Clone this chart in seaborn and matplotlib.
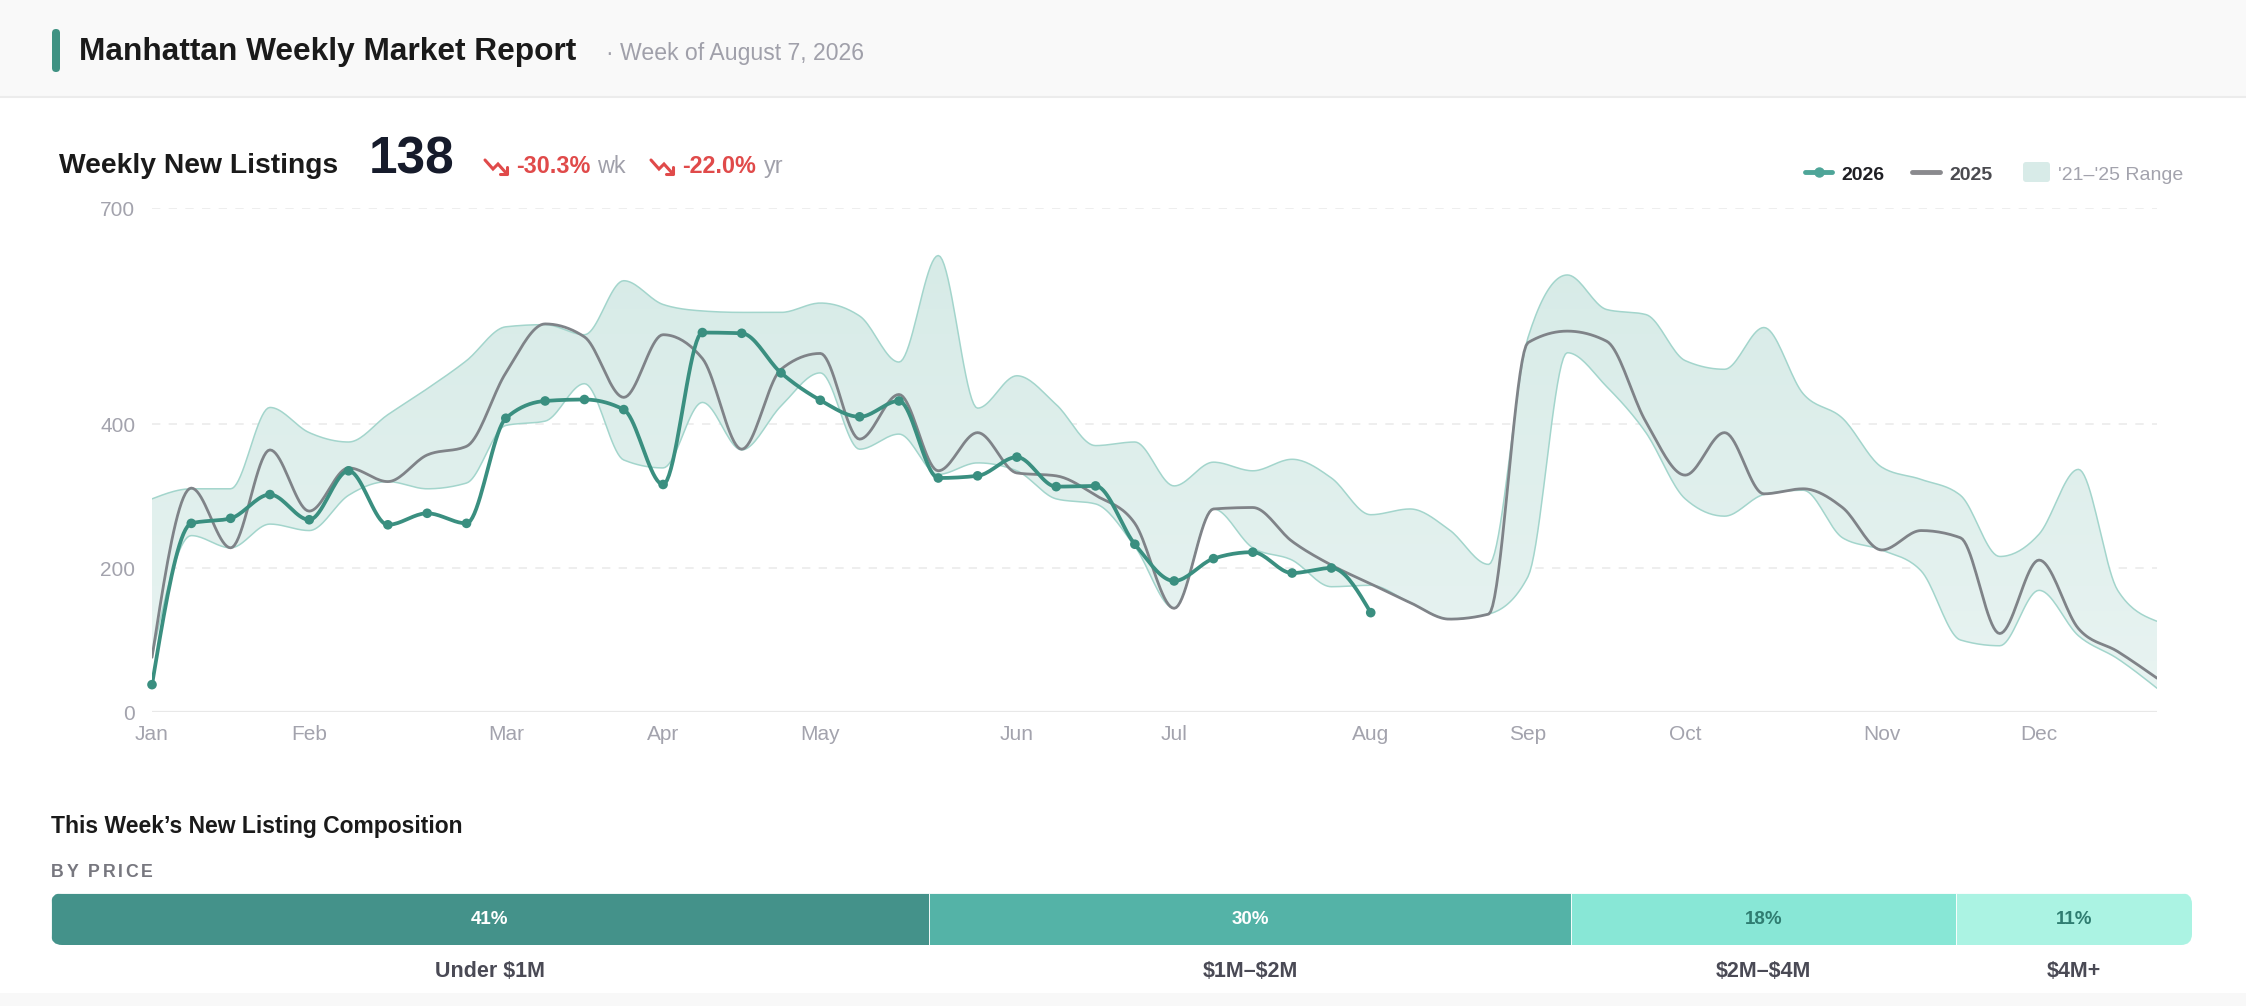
import numpy as np
import pandas as pd
import seaborn as sns
import matplotlib.pyplot as plt
from matplotlib.patches import FancyBboxPatch, Rectangle
from matplotlib.colors import LinearSegmentedColormap

# weekly values (week 0 = first week of Jan)
month_labels = ["Jan", "Feb", "Mar", "Apr", "May", "Jun", "Jul", "Aug", "Sep", "Oct", "Nov", "Dec"]
month_weeks = [0, 4, 9, 13, 17, 22, 26, 31, 35, 39, 44, 48]

listings_2026 = [38, 262, 269, 302, 267, 335, 260, 276, 262, 408, 432, 434, 420, 316, 527, 526,
                 471, 433, 410, 432, 325, 328, 354, 313, 314, 233, 182, 213, 222, 193, 200, 138]

listings_2025 = [76, 311, 228, 364, 279, 339, 320, 357, 369, 471, 539, 521, 437, 524, 491, 365,
                 476, 498, 379, 441, 335, 388, 332, 328, 301, 262, 144, 282, 284, 237, 204, 178,
                 152, 129, 136, 513, 529, 515, 403, 329, 388, 303, 310, 284, 225, 252, 242, 109,
                 211, 116, 84, 47]

range_high = [296, 310, 310, 423, 388, 375, 413, 449, 488, 535, 538, 524, 599, 566, 557, 555,
              555, 568, 550, 486, 634, 422, 467, 427, 370, 375, 314, 347, 335, 351, 325, 274,
              282, 253, 205, 520, 607, 559, 552, 488, 476, 534, 442, 408, 340, 323, 301, 216,
              247, 337, 169, 126]

range_low = [76, 245, 228, 261, 252, 301, 320, 310, 318, 398, 404, 456, 350, 339, 430, 364,
             425, 471, 365, 386, 330, 346, 335, 296, 289, 230, 144, 282, 228, 211, 174, 176,
             152, 129, 136, 188, 499, 452, 388, 296, 272, 302, 308, 242, 225, 196, 100, 92,
             169, 106, 74, 33]

price_labels = ["Under \\$1M", "\\$1M\u2013\\$2M", "\\$2M\u2013\\$4M", "\\$4M+"]
price_shares = [41, 30, 18, 11]
price_colors = ["#44928a", "#54b3a7", "#88e7d6", "#abf3e3"]
price_text_colors = ["white", "white", "#2f7d71", "#2f7d71"]

TEAL = "#3a8f80"
GREY = "#7f8388"


def monotone_curve(values, steps=20):
    # monotone cubic (same idea as d3.curveMonotoneX), only for drawing
    y = np.asarray(values, float)
    n = len(y)
    s = np.diff(y)
    t = np.zeros(n)
    for i in range(1, n - 1):
        s0, s1 = s[i - 1], s[i]
        p = (s0 + s1) / 2
        t[i] = (np.sign(s0) + np.sign(s1)) * min(abs(s0), abs(s1), 0.5 * abs(p))
    t[0] = (3 * s[0] - t[1]) / 2
    t[-1] = (3 * s[-1] - t[-2]) / 2
    u = np.linspace(0, 1, steps, endpoint=False)
    h00 = 2 * u**3 - 3 * u**2 + 1
    h10 = u**3 - 2 * u**2 + u
    h01 = -2 * u**3 + 3 * u**2
    h11 = u**3 - u**2
    xs, ys = [], []
    for i in range(n - 1):
        xs.append(i + u)
        ys.append(h00 * y[i] + h10 * t[i] + h01 * y[i + 1] + h11 * t[i + 1])
    xs.append([n - 1])
    ys.append([y[-1]])
    return np.concatenate(xs), np.concatenate(ys)


sns.set_theme(style="white")
plt.rcParams['font.family'] = ['Liberation Sans', 'DejaVu Sans']

W, H = 2246, 1006
fig = plt.figure(figsize=(W / 100, H / 100), dpi=100)
fig.patch.set_facecolor("white")

# background / layout layer in pixel coordinates
bg = fig.add_axes([0, 0, 1, 1])
bg.set_xlim(0, W)
bg.set_ylim(H, 0)
bg.axis("off")
bg.set_zorder(-1)
bg.add_patch(Rectangle((0, 0), W, 97, fc="#f9f9f9", ec="none"))
bg.plot([0, W], [97, 97], color="#ececec", lw=1.5)
bg.add_patch(Rectangle((0, 993), W, 13, fc="#f8f8f8", ec="none"))
bg.add_patch(FancyBboxPatch((52, 29), 8, 43, boxstyle="round,pad=0,rounding_size=4",
                            fc="#3f9283", ec="none"))

bg.text(79, 60, "Manhattan Weekly Market Report", fontsize=22.8, fontweight="bold",
        color="#1a1a1a", va="baseline")
bg.text(606, 60, "\u00b7 Week of August 7, 2026", fontsize=16.6, color="#a0a0aa", va="baseline")

bg.text(59, 173, "Weekly New Listings", fontsize=20.3, fontweight="bold", color="#1a1a1a",
        va="baseline")
bg.text(369, 173, "138", fontsize=37, fontweight="bold", color="#161b2b", va="baseline")

RED = "#e04a4a"
for x0, pct, unit, ux in [(485, "-30.3%", "wk", 597), (651, "-22.0%", "yr", 764)]:
    bg.plot([x0, x0 + 8, x0 + 13, x0 + 22], [160, 169, 164, 174], color=RED, lw=2.2,
            solid_joinstyle="miter")
    bg.plot([x0 + 15, x0 + 22, x0 + 22], [174, 174, 167], color=RED, lw=2.2)
    bg.text(x0 + 31, 173, pct, fontsize=16.8, fontweight="bold", color=RED, va="baseline")
    bg.text(ux, 173, unit, fontsize=16.8, color="#a0a0aa", va="baseline")

# legend
bg.plot([1805, 1832], [172, 172], color="#4ea598", lw=3.5, solid_capstyle="round")
bg.plot([1818.5], [172], "o", color="#4ea598", ms=6.5)
bg.text(1841, 180, "2026", fontsize=14, fontweight="bold", color="#1f1f24", va="baseline")
bg.plot([1912, 1940], [172, 172], color="#8a8a8e", lw=3.5, solid_capstyle="round")
bg.text(1949, 180, "2025", fontsize=14, fontweight="bold", color="#4b4b50", va="baseline")
bg.add_patch(FancyBboxPatch((2023, 162), 27, 20, boxstyle="round,pad=0,rounding_size=3",
                            fc="#d8ebe8", ec="none"))
bg.text(2058, 180, "'21\u2013'25 Range", fontsize=14, color="#a3a3ad", va="baseline")

# main chart
ax = fig.add_axes([152 / W, 1 - 712 / H, (2157 - 152) / W, (712 - 208) / H])
ax.set_facecolor("none")

xb, hi_d = monotone_curve(range_high)
_, lo_d = monotone_curve(range_low)
band = ax.fill_between(xb, lo_d, hi_d, facecolor="none", edgecolor="none")
grad = np.linspace(0, 1, 256).reshape(-1, 1)
cmap = LinearSegmentedColormap.from_list("band", ["#e9f4f2", "#d5eae6"])
im = ax.imshow(grad, extent=(0, 51, 0, 700), origin="lower", aspect="auto", cmap=cmap, zorder=1)
im.set_clip_path(band.get_paths()[0], transform=ax.transData)
ax.plot(xb, hi_d, color="#a3d5cc", lw=1.1, zorder=2)
ax.plot(xb, lo_d, color="#a3d5cc", lw=1.1, zorder=2)

for v in [200, 400, 700]:
    ax.axhline(v, color="#ebebeb", lw=1.2, ls=(0, (5, 5)), zorder=0)
ax.axhline(0, color="#e8e8e8", lw=1.6, zorder=0)

x25, y25 = monotone_curve(listings_2025)
df25 = pd.DataFrame({"week": x25, "listings": y25})
sns.lineplot(data=df25, x="week", y="listings", ax=ax, color=GREY, linewidth=2.0, zorder=3)

x26, y26 = monotone_curve(listings_2026)
df26 = pd.DataFrame({"week": x26, "listings": y26})
sns.lineplot(data=df26, x="week", y="listings", ax=ax, color=TEAL, linewidth=2.7, zorder=4)
pts = pd.DataFrame({"week": np.arange(len(listings_2026)), "listings": listings_2026})
sns.scatterplot(data=pts, x="week", y="listings", ax=ax, color=TEAL, s=48, edgecolor="none",
                zorder=5, clip_on=False)

ax.set_xlim(0, 51)
ax.set_ylim(0, 700)
ax.set_xticks(month_weeks)
ax.set_xticklabels(month_labels)
ax.set_yticks([0, 200, 400, 700])
ax.set_yticklabels(["0", "200", "400", "700"])
ax.set_xlabel("")
ax.set_ylabel("")
ax.tick_params(axis="both", length=0, labelsize=15, labelcolor="#a3a3ad")
ax.tick_params(axis="x", pad=9)
ax.tick_params(axis="y", pad=12)
for sp in ax.spines.values():
    sp.set_visible(False)

# composition bar
bg.text(51, 833, "This Week\u2019s New Listing Composition", fontsize=16.5, fontweight="bold",
        color="#1a1a1a", va="baseline")

# "BY PRICE" with letter spacing
renderer = fig.canvas.get_renderer()
cx = 51
for ch in "BY PRICE":
    t = bg.text(cx, 877, ch, fontsize=12.8, fontweight="bold", color="#77777f", va="baseline")
    w = t.get_window_extent(renderer).width if ch != " " else 5
    cx += w + 2.6

bx = fig.add_axes([51 / W, 1 - 945 / H, (2192 - 51) / W, (945 - 893) / H])
bx.set_xlim(0, 100)
bx.set_ylim(0, 1)
bx.axis("off")
lefts = np.concatenate([[0], np.cumsum(price_shares)[:-1]])
bars = bx.barh(0.5, price_shares, left=lefts, height=1, color=price_colors,
               edgecolor="#ffffff", linewidth=0.6)
clip = FancyBboxPatch((51, 893), 2141, 52, boxstyle="round,pad=0,rounding_size=11",
                      transform=bg.transData)
for b in bars:
    b.set_clip_path(clip)
for left, share, label, tc in zip(lefts, price_shares, price_labels, price_text_colors):
    c = left + share / 2
    bx.text(c, 0.5, f"{share}%", ha="center", va="center", fontsize=13.5, fontweight="bold",
            color=tc)
    bx.text(c, -0.615, label, ha="center", va="baseline", fontsize=15.5, fontweight="bold",
            color="#4a4a55", clip_on=False)

fig.savefig("out.png", dpi=100)
